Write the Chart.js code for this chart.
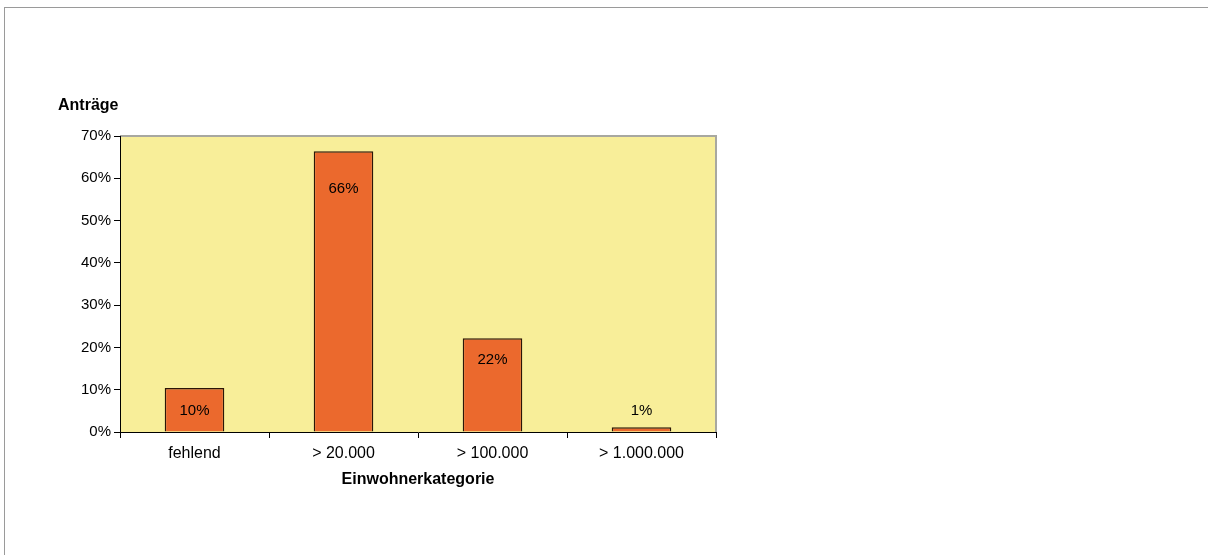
<!DOCTYPE html>
<html>
<head>
<meta charset="utf-8">
<script src="https://cdn.jsdelivr.net/npm/chart.js@4"></script>
<style>
    html, body { margin: 0; padding: 0; background: #fff; }
    #frame {
        position: absolute; left: 4px; top: 7px; width: 1204px; height: 548px;
        border-top: 1px solid #9a9a9a; border-left: 1px solid #9a9a9a;
    }
    #wrap { position: absolute; left: 0; top: 0; width: 1208px; height: 555px; }
</style>
</head>
<body>
<div id="frame"></div>
<div id="wrap"><canvas id="chart" width="1208" height="555"></canvas></div>
<script>
// data
const categories = ['fehlend', '> 20.000', '> 100.000', '> 1.000.000'];
const values = [10.4, 66.4, 22.2, 1.1];
const valueLabels = ['10%', '66%', '22%', '1%'];
const yTicks = [0, 10, 20, 30, 40, 50, 60, 70];

// label offset from bar top (px), negative = above the bar
const labelShift = [23, 38, 22, -16];

const FONT = 'Liberation Sans, Arial, sans-serif';

// plot background + top/right frame
const plotBg = {
    id: 'plotBg',
    beforeDraw(chart) {
        const { ctx, chartArea: a } = chart;
        ctx.save();
        ctx.fillStyle = '#f8ee99';
        ctx.fillRect(a.left, a.top, a.right - a.left, a.bottom - a.top);
        ctx.strokeStyle = '#a8a8a0';
        ctx.lineWidth = 2;
        ctx.beginPath();
        ctx.moveTo(a.left, a.top);
        ctx.lineTo(a.right, a.top);
        ctx.lineTo(a.right, a.bottom);
        ctx.stroke();
        ctx.restore();
    }
};

// value labels and y title
const labelsPlugin = {
    id: 'labelsPlugin',
    afterDatasetsDraw(chart) {
        const { ctx } = chart;
        const meta = chart.getDatasetMeta(0);
        ctx.save();
        ctx.font = '15px ' + FONT;
        ctx.fillStyle = '#000';
        ctx.textAlign = 'center';
        ctx.textBaseline = 'middle';
        meta.data.forEach((bar, i) => {
            ctx.fillText(valueLabels[i], bar.x, bar.y + labelShift[i]);
        });
        ctx.font = 'bold 16px ' + FONT;
        ctx.textAlign = 'left';
        ctx.fillText('Anträge', 58, 106);
        ctx.restore();
    }
};

new Chart(document.getElementById('chart'), {
    type: 'bar',
    data: {
        labels: categories,
        datasets: [{
            data: values,
            backgroundColor: '#eb692d',
            borderColor: '#2b1608',
            borderWidth: 1.5,
            categoryPercentage: 1,
            barPercentage: 0.4
        }]
    },
    options: {
        responsive: false,
        animation: false,
        layout: { padding: { left: 0, top: 136, right: 492, bottom: 66 } },
        plugins: {
            legend: { display: false },
            tooltip: { enabled: false }
        },
        scales: {
            x: {
                grid: {
                    offset: true,
                    drawOnChartArea: false,
                    drawTicks: true,
                    tickLength: 6,
                    tickColor: '#000'
                },
                border: { color: '#000', width: 1 },
                ticks: { color: '#000', font: { family: FONT, size: 16 }, padding: 6, maxRotation: 0 },
                title: {
                    display: true,
                    text: 'Einwohnerkategorie',
                    color: '#000',
                    font: { family: FONT, size: 16, weight: 'bold' },
                    padding: { top: 4, bottom: 0 }
                },
                afterFit(scale) { scale.height = 57; }
            },
            y: {
                min: 0,
                max: 70,
                afterBuildTicks(scale) { scale.ticks = yTicks.map(v => ({ value: v })); },
                grid: {
                    drawOnChartArea: false,
                    drawTicks: true,
                    tickLength: 6,
                    tickColor: '#000'
                },
                border: { color: '#000', width: 1 },
                ticks: {
                    color: '#000',
                    font: { family: FONT, size: 15 },
                    padding: 3,
                    callback: v => v + '%'
                },
                afterFit(scale) { scale.width = 120; }
            }
        }
    },
    plugins: [plotBg, labelsPlugin]
});
</script>
</body>
</html>
